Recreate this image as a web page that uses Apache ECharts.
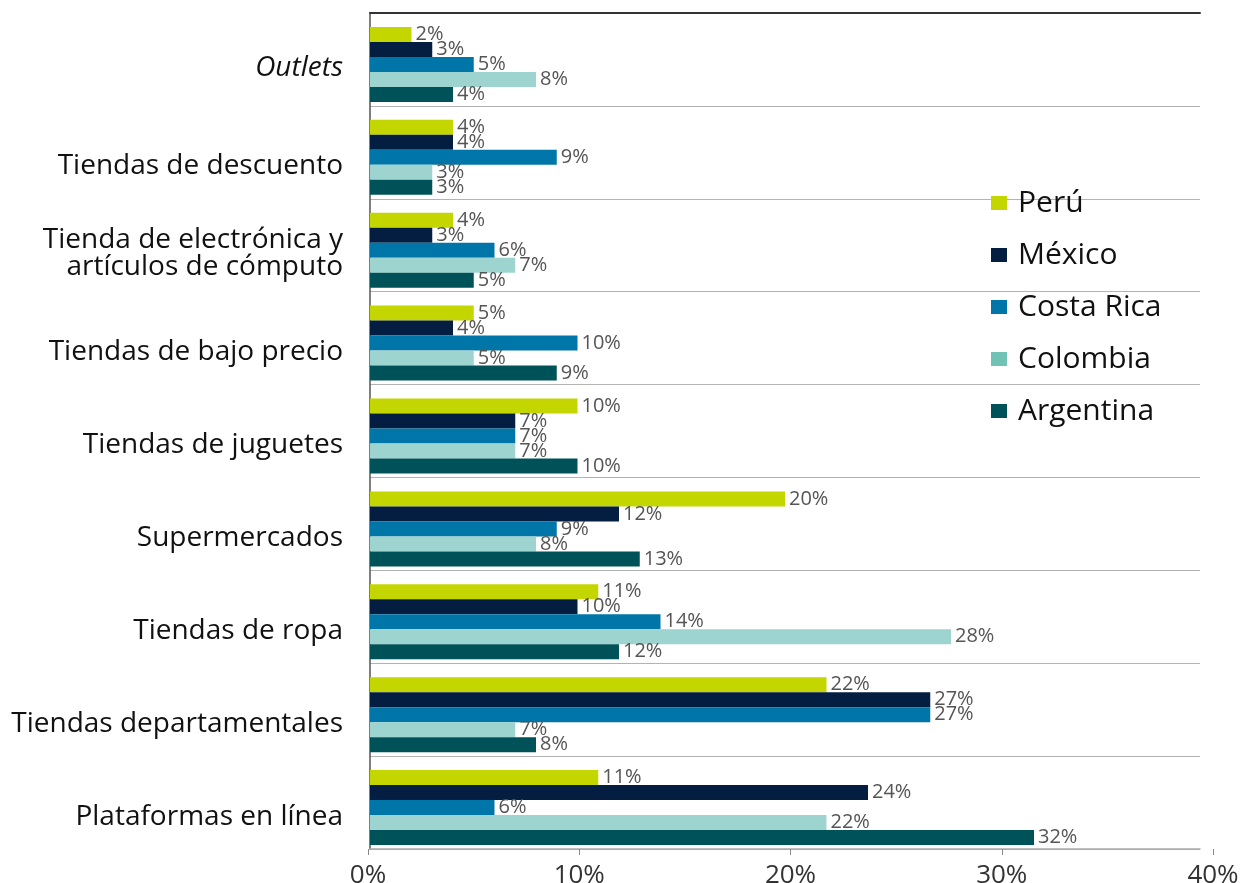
<!DOCTYPE html>
<html><head><meta charset="utf-8">
<script src="https://cdn.jsdelivr.net/npm/echarts@6/dist/echarts.min.js"></script>
<style>html,body{margin:0;padding:0;background:#fff}#c{width:1245px;height:883px}</style>
</head><body><div id="c"></div>
<script>
const categories = ['Outlets','Tiendas de descuento','Tienda de electrónica y\nartículos de cómputo','Tiendas de bajo precio','Tiendas de juguetes','Supermercados','Tiendas de ropa','Tiendas departamentales','Plataformas en línea'];
const seriesNames = ['Perú','México','Costa Rica','Colombia','Argentina'];
const peru      = [2, 4, 4, 5, 10, 20, 11, 22, 11];
const mexico    = [3, 4, 3, 4, 7, 12, 10, 27, 24];
const costaRica = [5, 9, 6, 10, 7, 9, 14, 27, 6];
const colombia  = [8, 3, 7, 5, 7, 8, 28, 7, 22];
const argentina = [4, 3, 5, 9, 10, 13, 12, 8, 32];
const xTickValues = [0, 10, 20, 30, 40];

const barColors = ['#C4D600', '#041E42', '#0076A8', '#9DD4CF', '#005259'];
const legendColors = ['#C4D600', '#041E42', '#0076A8', '#6FC2B4', '#005259'];
const seriesData = [peru, mexico, costaRica, colombia, argentina];
const FONT = "'Open Sans', 'Noto Sans', sans-serif";

const chart = echarts.init(document.getElementById('c'), null, {renderer: 'canvas'});

const barSeries = seriesNames.map((name, i) => ({
  name: name,
  type: 'bar',
  xAxisIndex: 0,
  yAxisIndex: 0,
  barWidth: 15,
  barGap: '0%',
  data: seriesData[i],
  itemStyle: {color: barColors[i]},
  label: {
    show: true, position: 'right', distance: 4,
    formatter: '{c}%', fontSize: 20, color: '#555', fontFamily: FONT
  },
  emphasis: {disabled: true}
}));

const spacer = {
  name: '_spacer', type: 'bar', xAxisIndex: 0, yAxisIndex: 0,
  barWidth: 10, barGap: '0%', silent: true,
  data: categories.map(() => null)
};

chart.setOption({
  animation: false,
  textStyle: {fontFamily: FONT},
  grid: [
    {left: 370, right: 45, top: 13, bottom: 34, outerBoundsMode: 'none', containLabel: false},
    {left: 368, right: 32, top: 13, bottom: 34, outerBoundsMode: 'none', containLabel: false}
  ],
  legend: {
    orient: 'vertical', left: 986, top: 181,
    itemWidth: 16, itemHeight: 14, itemGap: 18, icon: 'rect',
    textStyle: {fontSize: 30, color: '#111', fontFamily: FONT, lineHeight: 34, padding: [0, 0, 0, 6]},
    data: seriesNames.map((n, i) => ({name: n, itemStyle: {color: legendColors[i]}}))
  },
  xAxis: [
    {gridIndex: 0, type: 'value', min: 0, max: 40, interval: 10, position: 'bottom',
     axisLine: {show: true, lineStyle: {color: '#aaa', width: 1.5}},
     axisTick: {show: false}, axisLabel: {show: false}, splitLine: {show: false}},
    {gridIndex: 0, type: 'value', min: 0, max: 40, interval: 10, position: 'top',
     axisLine: {show: true, lineStyle: {color: '#333', width: 2}},
     axisTick: {show: false}, axisLabel: {show: false}, splitLine: {show: false}},
    {gridIndex: 1, type: 'value', min: xTickValues[0], max: xTickValues[xTickValues.length - 1], interval: 10, position: 'bottom',
     axisLine: {show: false},
     axisTick: {show: true, length: 6, lineStyle: {color: '#888'}},
     axisLabel: {fontSize: 26, color: '#333', margin: 14, fontFamily: FONT, formatter: '{value}%'},
     splitLine: {show: false}}
  ],
  yAxis: [
    {gridIndex: 0, type: 'category', data: categories, inverse: true,
     axisLine: {show: true, lineStyle: {color: '#555', width: 1.5}},
     axisTick: {show: false},
     splitLine: {show: true, lineStyle: {color: '#b3b3b3', width: 1}},
     axisLabel: {
       margin: 27, align: 'right',
       formatter: function (v, idx) {
         if (idx === 0) return '{o|' + v + '}';
         if (v.indexOf('\n') >= 0) {
           const p = v.split('\n');
           return '{sp| }\n{e|' + p[0] + '}\n{e|' + p[1] + '}';
         }
         return '{n|' + v + '}';
       },
       rich: {
         n: {fontSize: 28, color: '#111', fontFamily: FONT, lineHeight: 32, padding: [28, 0, 0, 0]},
         o: {fontSize: 28, color: '#111', fontFamily: FONT, fontStyle: 'italic', lineHeight: 32, padding: [17, 0, 0, 0]},
         sp: {fontSize: 10, lineHeight: 17},
         e: {fontSize: 28, color: '#111', fontFamily: FONT, lineHeight: 27}
       }
     }},
    {gridIndex: 1, type: 'value', show: false, min: 0, max: 1}
  ],
  series: [spacer].concat(barSeries)
});
</script>
</body></html>
